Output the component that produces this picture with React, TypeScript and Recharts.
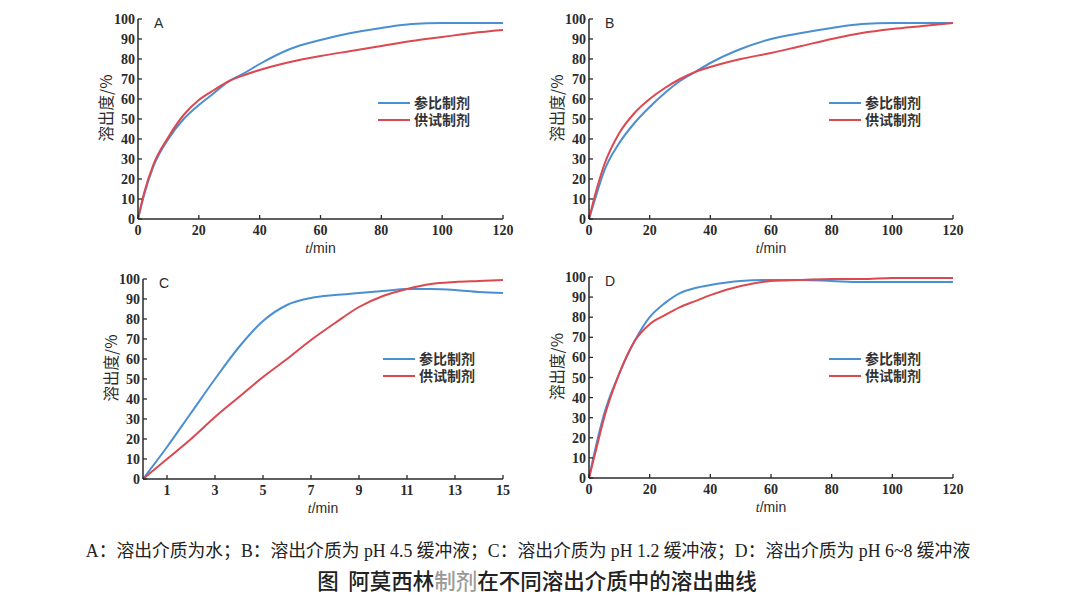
import { LineChart, Line, XAxis, YAxis } from 'recharts';

// panel A: water
const aTime = [0, 2, 5, 10, 15, 20, 25, 30, 35, 40, 50, 60, 70, 80, 90, 100, 110, 120];
const aRef = [0, 12, 26, 40, 50, 57, 63, 69, 73, 77.5, 85, 89.5, 93, 95.5, 97.5, 98, 98, 98];
const aTest = [0, 13, 27, 41, 52, 59.5, 64.5, 69, 72, 74.5, 78.5, 81.5, 84, 86.5, 89, 91, 93, 94.5];
// panel B: pH 4.5
const bTime = [0, 2, 5, 10, 15, 20, 25, 30, 35, 40, 50, 60, 70, 80, 90, 100, 110, 120];
const bRef = [0, 10, 24, 38, 48, 56, 63, 69, 73.5, 78, 85, 90, 93, 95.5, 97.5, 98, 98, 98];
const bTest = [0, 12, 27, 43, 53, 60, 65.5, 70, 73.5, 76, 80, 83, 86.5, 90, 93, 95, 96.5, 98];
// panel C: pH 1.2
const cTime = [0, 1, 2, 3, 4, 5, 6, 7, 8, 9, 10, 11, 12, 13, 14, 15];
const cRef = [0, 16, 33, 50, 66, 79, 87, 90.5, 92, 93, 94, 95, 95, 94.5, 93.5, 93];
const cTest = [0, 10, 20, 31, 41, 51, 60, 69.5, 78, 86, 91.5, 95, 97.5, 98.5, 99, 99.5];
// panel D: pH 6~8
const dTime = [0, 2, 5, 10, 15, 20, 25, 30, 35, 40, 50, 60, 70, 80, 90, 100, 110, 120];
const dRef = [0, 14, 32, 52, 68, 80, 87, 92, 94.5, 96, 98, 98.5, 98.5, 98, 97.5, 97.5, 97.5, 97.5];
const dTest = [0, 12, 30, 52, 68, 76.5, 81, 85, 88, 91, 95.5, 98, 98.5, 99, 99, 99.5, 99.5, 99.5];

const yTicks = [0, 10, 20, 30, 40, 50, 60, 70, 80, 90, 100];
const longTicks = [0, 20, 40, 60, 80, 100, 120];
const shortTicks = [1, 3, 5, 7, 9, 11, 13, 15];
const seriesNames = ['参比制剂', '供试制剂'];

const BLUE = '#4a8fd2';
const RED = '#dc4850';
const INK = '#2a2a2a';
const SERIF = "'Liberation Serif', 'Times New Roman', serif";
const CJK = "'Noto Sans CJK SC', sans-serif";

const YTick = (p: any) => (
  <g>
    <line x1={p.x} x2={p.x + 4} y1={p.y} y2={p.y} stroke={INK} strokeWidth={1.3} />
    <text x={p.x - 3} y={p.y} dy={5} textAnchor="end" fontFamily={SERIF} fontWeight="bold" fontSize={14} fill={INK}>{p.payload.value}</text>
  </g>
);

const XTick = (p: any) => (
  <g>
    <line x1={p.x} x2={p.x} y1={p.y} y2={p.y - 4} stroke={INK} strokeWidth={1.3} />
    <text x={p.x} y={p.y} dy={16} textAnchor="middle" fontFamily={SERIF} fontWeight="bold" fontSize={14} fill={INK}>{p.payload.value}</text>
  </g>
);

const XTitle = (p: any) => {
  const vb = p.viewBox || { x: 0, y: 0, width: 0 };
  return (
    <text x={vb.x + vb.width / 2} y={vb.y + 34} textAnchor="middle" fontSize={14} fill={INK}>
      <tspan fontFamily={SERIF} fontStyle="italic">t</tspan>
      <tspan fontFamily="'Liberation Sans', Arial, sans-serif">/min</tspan>
    </text>
  );
};

const YTitle = (p: any) => {
  const vb = p.viewBox || { x: 0, y: 0, height: 0 };
  const cx = vb.x + 19;
  const cy = vb.y + vb.height / 2 - 11;
  return (
    <text x={cx} y={cy} transform={`rotate(-90 ${cx} ${cy})`} dy={5} textAnchor="middle" fontFamily={CJK} fontSize={15.5} fill={INK}>溶出度/%</text>
  );
};

const LegendBox = ({ left, top }: { left: number; top: number }) => (
  <div style={{ position: 'absolute', left, top, fontFamily: CJK, fontSize: 14, fontWeight: 700, color: '#333', lineHeight: '15px' }}>
    {seriesNames.map((name, i) => (
      <div key={name} style={{ display: 'flex', alignItems: 'center', height: 17 }}>
        <svg width={32} height={4} style={{ marginRight: 4 }}><line x1={0} x2={32} y1={2} y2={2} stroke={i === 0 ? BLUE : RED} strokeWidth={2} /></svg>
        <span>{name}</span>
      </div>
    ))}
  </div>
);

type PanelProps = {
  letter: string; time: number[]; refv: number[]; testv: number[];
  xMax: number; xTicks: number[];
  left: number; top: number; w: number; h: number;
  legTop: number;
};

function Panel({ letter, time, refv, testv, xMax, xTicks, left, top, w, h, legTop }: PanelProps) {
  const data = time.map((t, i) => ({ t, ref: refv[i], test: testv[i] }));
  return (
    <div style={{ position: 'absolute', left: left - 50, top: top - 10 }}>
      <LineChart width={w + 70} height={h + 55} data={data} margin={{ top: 10, right: 20, bottom: 0, left: 0 }}>
        <XAxis dataKey="t" type="number" domain={[0, xMax]} ticks={xTicks} interval={0} height={45}
          tickSize={0} tickMargin={0} tick={XTick} axisLine={{ stroke: INK, strokeWidth: 1.5 }}
          label={{ content: XTitle }} />
        <YAxis type="number" domain={[0, 100]} ticks={yTicks} interval={0} width={50}
          tickSize={0} tickMargin={0} tick={YTick} axisLine={{ stroke: INK, strokeWidth: 1.5 }}
          label={{ content: YTitle }} />
        <Line type="monotone" dataKey="ref" name={seriesNames[0]} stroke={BLUE} strokeWidth={2} dot={false} isAnimationActive={false} />
        <Line type="monotone" dataKey="test" name={seriesNames[1]} stroke={RED} strokeWidth={2} dot={false} isAnimationActive={false} />
      </LineChart>
      <LegendBox left={290} top={legTop} />
      <div style={{ position: 'absolute', left: 66, top: 6, fontFamily: "'Liberation Sans', Arial, sans-serif", fontSize: 14, color: INK }}>{letter}</div>
    </div>
  );
}

export default function App() {
  return (
    <div style={{ position: 'absolute', left: 0, top: 0, width: 1080, height: 602, background: '#fff', overflow: 'hidden' }}>
      <Panel letter="A" time={aTime} refv={aRef} testv={aTest} xMax={120} xTicks={longTicks} left={138} top={19} w={365} h={200} legTop={85} />
      <Panel letter="B" time={bTime} refv={bRef} testv={bTest} xMax={120} xTicks={longTicks} left={589} top={19} w={364} h={200} legTop={85} />
      <Panel letter="C" time={cTime} refv={cRef} testv={cTest} xMax={15} xTicks={shortTicks} left={143} top={279} w={360} h={200} legTop={81} />
      <Panel letter="D" time={dTime} refv={dRef} testv={dTest} xMax={120} xTicks={longTicks} left={589} top={277} w={364} h={201} legTop={83} />
      <div style={{ position: 'absolute', left: -12, width: 1080, top: 536, textAlign: 'center', fontFamily: `${SERIF.split(',')[0]}, ${CJK}`, fontSize: 17.8, color: '#222', whiteSpace: 'nowrap' }}>
        A：溶出介质为水；B：溶出介质为 pH 4.5 缓冲液；C：溶出介质为 pH 1.2 缓冲液；D：溶出介质为 pH 6~8 缓冲液
      </div>
      <div style={{ position: 'absolute', left: -3, width: 1080, top: 564, textAlign: 'center', fontFamily: CJK, fontSize: 21.5, fontWeight: 500, color: '#222', whiteSpace: 'pre' }}>
        {'图  阿莫西林'}<span style={{ color: '#9a9a9a' }}>制剂</span>{'在不同溶出介质中的溶出曲线'}
      </div>
    </div>
  );
}
